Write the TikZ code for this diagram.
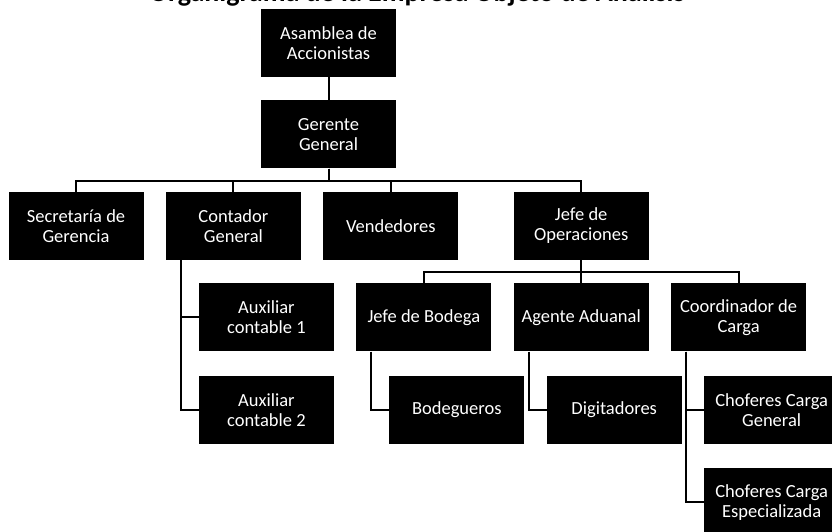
\documentclass[tikz,border=0pt]{standalone}
\usepackage{fontspec}
\setmainfont{Carlito}
\usetikzlibrary{positioning}

\begin{document}
\begin{tikzpicture}[x=1pt, y=-1pt,
    puesto/.style={fill=black, text=white, inner sep=0pt, align=center,
        minimum width=135pt, minimum height=68pt,
        font=\fontsize{18.5}{20}\selectfont},
    linea/.style={draw=black, line width=2pt},
    node distance=23pt and 22pt]
    \useasboundingbox (0,0) rectangle (832,531);
    \clip (0,0) rectangle (832,531);
    \node [anchor=base, font=\bfseries\fontsize{28}{30}\selectfont] (titulo) at (417,1.5) {Organigrama de la Empresa Objeto de Análisis};

    \node [puesto] (asamblea) at (328.5,43) {Asamblea de\\Accionistas};
    \node [puesto, below=of asamblea] (gerente) {Gerente\\General};

    \node [puesto] (secretaria) at (76,226) {Secretaría de\\Gerencia};
    \node [puesto, right=of secretaria] (contador) {Contador\\General};
    \node [puesto, right=of contador] (vendedores) {Vendedores};
    \node [puesto, right=of vendedores, xshift=33pt] (operaciones) {Jefe de\\Operaciones};

    \node [puesto, below=of operaciones] (agente) {Agente Aduanal};
    \node [puesto, left=of agente] (bodega) {Jefe de Bodega};
    \node [puesto, right=of agente] (coordinador) {Coordinador de\\Carga};
    \node [puesto, left=of bodega] (aux-a) {Auxiliar\\contable 1};
    \node [puesto, below=of aux-a, yshift=-1pt] (aux-b) {Auxiliar\\contable 2};

    \node [puesto, below=of bodega, xshift=33pt, yshift=-1pt] (bodegueros) {Bodegueros};
    \node [puesto, below=of agente, xshift=33pt, yshift=-1pt] (digitadores) {Digitadores};
    \node [puesto, below=of coordinador, xshift=33pt, yshift=-1pt] (choferes-g) {Choferes Carga\\General};
    \node [puesto, below=of choferes-g, yshift=-1pt] (choferes-e) {Choferes Carga\\Especializada};

    \draw [linea] (asamblea) -- (gerente);
    \foreach \hijo in {secretaria, contador, vendedores, operaciones}
        \draw [linea] (gerente.south) -- ++(0,12) -| (\hijo.north);
    \foreach \hijo in {bodega, agente, coordinador}
        \draw [linea] (operaciones.south) -- ++(0,12) -| (\hijo.north);

    \draw [linea] ([xshift=15pt]contador.south west) |- (aux-a.west);
    \draw [linea] ([xshift=15pt]contador.south west) |- (aux-b.west);
    \draw [linea] ([xshift=15pt]bodega.south west) |- (bodegueros.west);
    \draw [linea] ([xshift=15pt]agente.south west) |- (digitadores.west);
    \draw [linea] ([xshift=15pt]coordinador.south west) |- (choferes-g.west);
    \draw [linea] ([xshift=15pt]coordinador.south west) |- (choferes-e.west);
\end{tikzpicture}
\end{document}
